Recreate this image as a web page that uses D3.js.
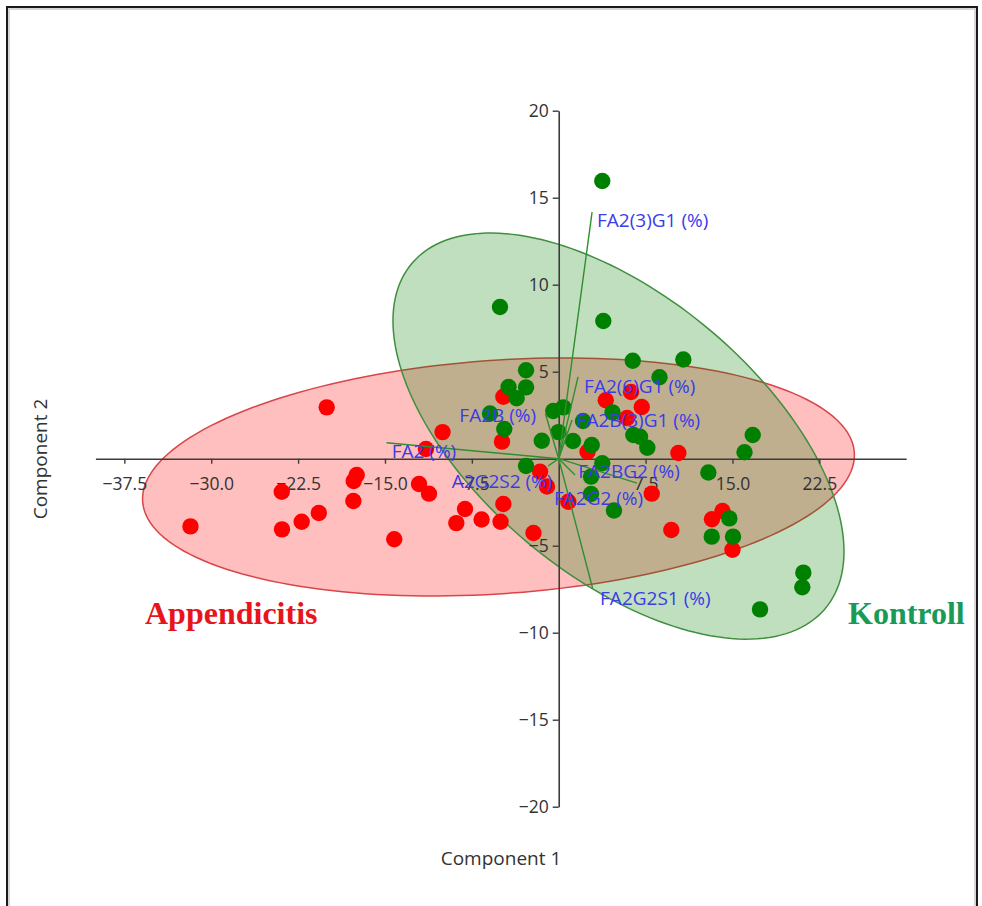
<!DOCTYPE html>
<html>
<head>
<meta charset="utf-8">
<script src="https://cdn.jsdelivr.net/npm/d3@7"></script>
<style>
  html, body { margin: 0; padding: 0; background: #fff; }
  svg { display: block; }
</style>
</head>
<body>
<svg id="chart" width="982" height="906"></svg>
<script>
// PCA scores, Component 1 / Component 2
const appendicitisX = [-20.03, -31.79, -23.91, -23.89, -22.19, -20.71, -17.44, -17.70, -17.73, -14.20,
  -12.06, -11.20, -10.03, -11.46, -8.09, -8.84, -6.66, -5.02, -4.78, -4.90,
  -4.78, -1.61, -1.01, -2.18, 0.83, 2.49, 4.06, 6.24, 7.17, 5.90,
  10.33, 8.03, 9.72, 13.23, 14.14, 15.00];
const appendicitisY = [2.95, -3.89, -1.90, -4.06, -3.62, -3.12, -0.94, -1.28, -2.43, -4.63,
  -1.45, -2.01, 1.53, 0.56, -2.89, -3.70, -3.49, -3.62, -2.60, 0.98,
  3.56, -0.75, -1.60, -4.27, -2.47, 0.40, 3.36, 3.83, 2.97, 2.34,
  0.33, -2.01, -4.10, -3.48, -3.01, -5.23];

const kontrollX = [3.76, 3.85, -5.07, 6.39, 10.76, 8.70, -2.82, -4.33, -2.82, -3.63,
  -5.93, -0.47, 0.40, -4.70, -0.02, -1.46, 1.23, 2.10, 4.64, 2.85,
  6.44, 7.02, 7.65, 3.76, -2.82, 2.79, 2.79, 4.77, 12.92, 16.04,
  16.75, 14.73, 13.21, 15.05, 21.12, 21.03, 17.38];
const kontrollY = [15.96, 7.91, 8.72, 5.63, 5.70, 4.68, 5.08, 4.12, 4.10, 3.47,
  2.60, 2.74, 2.95, 1.71, 1.53, 1.03, 1.02, 2.17, 2.66, 0.79,
  1.36, 1.26, 0.63, -0.26, -0.42, -1.03, -2.03, -2.98, -0.79, 0.37,
  1.36, -3.43, -4.48, -4.48, -6.55, -7.39, -8.66];

// Variable loadings (biplot vectors) and where their names sit
const loadingNames = ["FA2(3)G1 (%)", "FA2(6)G1 (%)", "FA2B(3)G1 (%)", "FA2B (%)", "FA2 (%)",
  "A2G2S2 (%)", "FA2BG2 (%)", "FA2G2 (%)", "FA2G2S1 (%)"];
const loadingX = [2.88, 1.67, 1.15, -1.14, -14.87, -0.92, 6.76, 1.41, 2.92];
const loadingY = [14.17, 4.70, 2.22, 2.57, 0.92, -0.42, -1.40, -0.94, -7.43];
const labelX = [3.31, 2.19, 1.55, -8.58, -14.42, -9.24, 1.69, -0.41, 3.57];
const labelY = [13.72, 4.14, 2.22, 2.51, 0.40, -1.32, -0.75, -2.28, -8.01];

// 95% ellipses: centre, standard deviations and correlation of each group
const groupNames = ["Appendicitis", "Kontroll"];
const ellipseCX = [-5.20, 5.16];
const ellipseCY = [-1.05, 1.30];
const ellipseSX = [30.73, 19.47];
const ellipseSY = [6.84, 11.67];
const ellipseR = [0.184, -0.568];

const xTicks = [-37.5, -30, -22.5, -15, -7.5, 7.5, 15, 22.5];
const yTicks = [-20, -15, -10, -5, 5, 10, 15, 20];

const svg = d3.select("#chart");
const x = d3.scaleLinear().domain([-40, 30]).range([95.4, 906.2]);
const y = d3.scaleLinear().domain([-20, 20]).range([806.7, 110.7]);

const fillCol = ["rgba(255,0,0,0.25)", "rgba(0,128,0,0.25)"];
const strokeCol = ["#d9454a", "#3f8f3f"];
const pointCol = ["#ff0000", "#008000"];
const legendCol = ["#e8141b", "#1a9a58"];

// frame around the figure
svg.append("path").attr("d", "M9,906V9H975V906").attr("fill", "none")
  .attr("stroke", "#d6d6d6").attr("stroke-width", 2);
svg.append("path").attr("d", "M7,906V7H977V906").attr("fill", "none")
  .attr("stroke", "#1a1a1a").attr("stroke-width", 2);

// confidence ellipses
const tSteps = d3.range(0, 361, 2).map(d => d * Math.PI / 180);
const ellLine = d3.line().x(d => x(d[0])).y(d => y(d[1]));
[0, 1].forEach(i => {
  const pts = tSteps.map(t => {
    const c = Math.cos(t), s = Math.sin(t);
    return [ellipseCX[i] + ellipseSX[i] * c,
            ellipseCY[i] + ellipseSY[i] * (ellipseR[i] * c + Math.sqrt(1 - ellipseR[i] * ellipseR[i]) * s)];
  });
  svg.append("path").attr("d", ellLine(pts) + "Z")
    .attr("fill", fillCol[i]).attr("stroke", strokeCol[i]).attr("stroke-width", 1.5);
});

// axes crossing at the origin
const axisFont = "'Open Sans', 'Noto Sans', sans-serif";
const xAxis = svg.append("g").attr("transform", `translate(0,${y(0)})`)
  .call(d3.axisBottom(x).tickValues(xTicks).tickFormat(d3.format(".1f"))
    .tickSize(5).tickSizeOuter(0).tickPadding(14));
const yAxis = svg.append("g").attr("transform", `translate(${x(0)},0)`)
  .call(d3.axisLeft(y).tickValues(yTicks).tickFormat(d3.format("d"))
    .tickSize(6).tickSizeOuter(0).tickPadding(4));
[xAxis, yAxis].forEach(g => {
  g.select(".domain").attr("stroke", "#3c3c3c").attr("stroke-width", 1.6);
  g.selectAll(".tick line").attr("stroke", "#3c3c3c").attr("stroke-width", 1.4);
  g.selectAll(".tick text").attr("fill", "#333").style("font-family", axisFont).style("font-size", "17.5px");
});

// score points
const pts = svg.append("g");
pts.selectAll("circle.a").data(d3.range(appendicitisX.length)).join("circle")
  .attr("cx", i => x(appendicitisX[i])).attr("cy", i => y(appendicitisY[i]))
  .attr("r", 8.2).attr("fill", pointCol[0]);
pts.selectAll("circle.k").data(d3.range(kontrollX.length)).join("circle")
  .attr("cx", i => x(kontrollX[i])).attr("cy", i => y(kontrollY[i]))
  .attr("r", 8.2).attr("fill", pointCol[1]);

// loading vectors
svg.append("g").selectAll("line").data(d3.range(loadingNames.length)).join("line")
  .attr("x1", x(0)).attr("y1", y(0))
  .attr("x2", i => x(loadingX[i])).attr("y2", i => y(loadingY[i]))
  .attr("stroke", "#2f8f2f").attr("stroke-width", 1.4);
svg.append("g").selectAll("text").data(d3.range(loadingNames.length)).join("text")
  .attr("x", i => x(labelX[i])).attr("y", i => y(labelY[i])).attr("dy", "0.35em")
  .attr("fill", "#3b3be8").style("font-family", axisFont).style("font-size", "19px")
  .text(i => loadingNames[i]);

// axis titles
svg.append("text").attr("x", 501).attr("y", 858).attr("dy", "0.35em").attr("text-anchor", "middle")
  .attr("fill", "#333").style("font-family", axisFont).style("font-size", "19px").text("Component 1");
svg.append("text").attr("transform", "translate(40,459) rotate(-90)").attr("dy", "0.35em")
  .attr("text-anchor", "middle").attr("fill", "#333").style("font-family", axisFont)
  .style("font-size", "19px").text("Component 2");

// group names
svg.append("text").attr("x", 145).attr("y", 624).attr("fill", legendCol[0])
  .style("font-family", "'Liberation Serif', 'Times New Roman', serif").style("font-weight", "bold")
  .style("font-size", "32px").text(groupNames[0]);
svg.append("text").attr("x", 848).attr("y", 624).attr("fill", legendCol[1])
  .style("font-family", "'Liberation Serif', 'Times New Roman', serif").style("font-weight", "bold")
  .style("font-size", "32px").text(groupNames[1]);
</script>
</body>
</html>
